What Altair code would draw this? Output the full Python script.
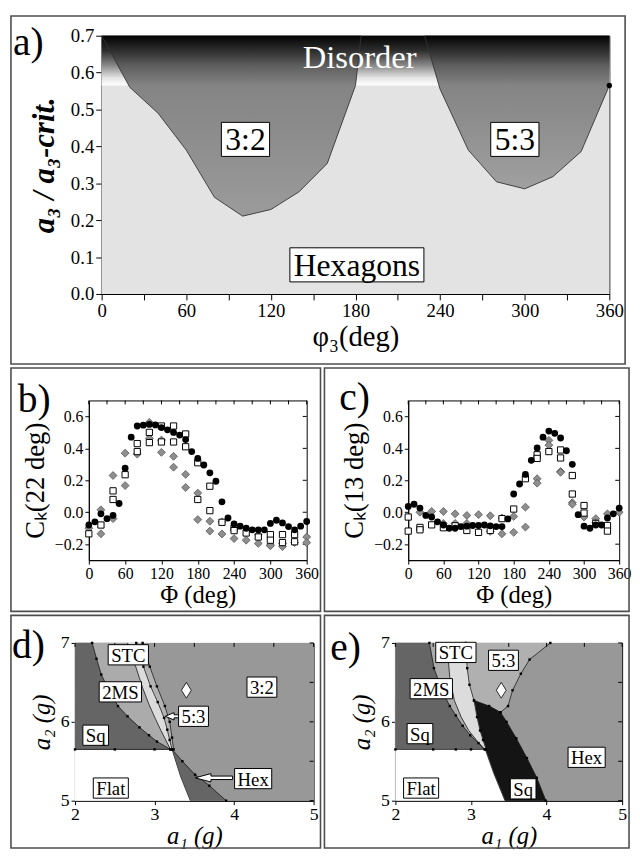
import altair as alt
import pandas as pd

FONT = "Liberation Serif"

# ---------------- panel a : phase diagram a3/a3crit vs phi3 ----------------
a_phi_32 = [0, 20, 40, 60, 80, 100, 120, 140, 160, 180, 184]
a_val_32 = [0.70, 0.56, 0.49, 0.39, 0.262, 0.211, 0.229, 0.277, 0.354, 0.565, 0.70]
a_phi_53 = [229, 240, 260, 280, 300, 320, 340, 360]
a_val_53 = [0.70, 0.555, 0.39, 0.304, 0.285, 0.318, 0.386, 0.565]
a_xdom = [0, 360]
a_ydom = [0.0, 0.7]
a_disorder_floor = 0.565
a_xticks = [0, 30, 60, 90, 120, 150, 180, 210, 240, 270, 300, 330, 360]
a_yticks = [0.0, 0.1, 0.2, 0.3, 0.4, 0.5, 0.6, 0.7]
a_box_text = ["3:2", "5:3", "Hexagons"]
a_box_x = [102, 293, 181]
a_box_y = [0.419, 0.419, 0.079]
a_dis_text = ["Disorder"]
a_dis_x = [183]
a_dis_y = [0.64]
a_dot_x = [360]
a_dot_y = [0.565]

# ---------------- panel b : C_k(22 deg) ----------------
b_circ_phi = [0, 10, 20, 30, 40, 50, 60, 70, 80, 90, 100, 110, 120, 130, 140, 150, 160, 170, 180,
              190, 200, 210, 220, 230, 240, 250, 260, 270, 280, 290, 300, 310, 320, 330, 340, 350, 360]
b_circ_val = [-0.08, -0.06, -0.01, -0.04, -0.02, 0.055, 0.276, 0.47, 0.54, 0.545, 0.55, 0.547, 0.53,
              0.516, 0.50, 0.483, 0.455, 0.38, 0.337, 0.296, 0.247, 0.194, 0.065, -0.036, -0.073,
              -0.087, -0.10, -0.11, -0.11, -0.11, -0.07, -0.05, -0.067, -0.09, -0.11, -0.087, -0.058]
b_sq_phi = [0, 20, 40, 40, 60, 80, 80, 100, 100, 120, 120, 140, 140, 160, 160, 180, 180, 200, 200,
            220, 240, 240, 260, 280, 300, 300, 320, 320, 340, 340]
b_sq_val = [-0.135, -0.08, 0.08, 0.134, 0.235, 0.43, 0.38, 0.50, 0.436, 0.54, 0.44, 0.54, 0.44,
            0.49, 0.41, 0.31, 0.08, 0.163, 0.01, -0.063, -0.10, -0.115, -0.13, -0.155, -0.14,
            -0.175, -0.14, -0.19, -0.14, -0.185]
b_dia_phi = [0, 20, 20, 40, 40, 60, 60, 80, 100, 100, 120, 120, 140, 140, 160, 160, 180, 180, 200,
             200, 220, 220, 240, 260, 280, 280, 300, 300, 320, 320, 340, 360, 360]
b_dia_val = [-0.10, 0.015, -0.135, 0.23, -0.04, 0.37, 0.167, 0.364, 0.563, 0.463, 0.452, 0.375,
             0.35, 0.282, 0.237, 0.155, 0.12, -0.046, -0.056, -0.118, -0.06, -0.136, -0.165,
             -0.175, -0.14, -0.195, -0.205, -0.21, -0.195, -0.215, -0.19, -0.155, -0.19]

# ---------------- panel c : C_k(13 deg) ----------------
c_circ_phi = b_circ_phi
c_circ_val = [0.036, 0.05, 0.026, -0.02, -0.03, -0.06, -0.08, -0.10, -0.10, -0.09, -0.087, -0.083,
              -0.083, -0.08, -0.085, -0.09, -0.09, -0.042, 0.114, 0.177, 0.237, 0.325, 0.403, 0.47,
              0.508, 0.494, 0.465, 0.385, 0.30, -0.015, -0.087, -0.10, -0.08, -0.08, -0.036, -0.01, 0.026]
c_sq_phi = [0, 0, 20, 20, 40, 60, 80, 100, 120, 140, 160, 180, 200, 220, 220, 240, 260, 260, 280,
            280, 300, 300, 320, 340, 340]
c_sq_val = [-0.03, -0.118, -0.095, -0.11, -0.079, -0.097, -0.085, -0.114, -0.126, -0.114, -0.04,
            0.02, 0.21, 0.36, 0.337, 0.38, 0.39, 0.34, 0.23, 0.114, 0.042, -0.005, -0.07, -0.083, -0.118]
c_dia_phi = [20, 40, 60, 60, 80, 80, 100, 100, 120, 140, 140, 160, 160, 180, 180, 200, 200, 220, 220,
             240, 240, 260, 260, 280, 280, 300, 320, 320, 340, 360]
c_dia_val = [0.0, 0.005, 0.005, -0.07, -0.01, -0.07, -0.02, -0.07, -0.015, -0.022, -0.12, -0.036,
             -0.135, -0.026, -0.126, 0.032, -0.093, 0.21, 0.182, 0.45, 0.42, 0.255, 0.25, 0.06, 0.05,
             -0.03, -0.04, -0.067, -0.01, 0.0]
bc_xdom = [0, 360]
bc_ydom = [-0.3, 0.7]
bc_xticks = [0, 60, 120, 180, 240, 300, 360]
bc_xminor = [0, 30, 60, 90, 120, 150, 180, 210, 240, 270, 300, 330, 360]
bc_yticks = [-0.2, 0.0, 0.2, 0.4, 0.6]

# ---------------- panel d : a2 vs a1 phase diagram ----------------
d_sq_a2 = [5.65, 5.75, 5.83, 5.93, 6.07, 6.2, 6.43, 6.6, 6.8, 7.0]
d_sq_a1 = [3.2, 3.03, 2.93, 2.81, 2.66, 2.54, 2.41, 2.33, 2.27, 2.215]
d_2ms_a2 = [5.65, 5.77, 5.89, 6.04, 6.22, 6.43, 6.68, 7.0]
d_2ms_a1 = [3.2, 3.14, 3.08, 3.01, 2.93, 2.85, 2.77, 2.66]
d_stc_a2 = [5.65, 5.77, 5.9, 6.05, 6.25, 6.45, 6.7, 7.0]
d_stc_a1 = [3.22, 3.19, 3.16, 3.12, 3.04, 2.95, 2.86, 2.77]
d_53_a2 = [5.65, 5.8, 6.0, 6.2, 6.45, 6.7, 7.0]
d_53_a1 = [3.24, 3.22, 3.19, 3.13, 3.03, 2.94, 2.85]
d_flat_a2 = [5.0, 5.3, 5.65]
d_flat_a1 = [3.45, 3.33, 3.22]
d_hex_a2 = [5.0, 5.19, 5.33, 5.5, 5.65]
d_hex_a1 = [3.9, 3.69, 3.51, 3.35, 3.22]
d_line_a1 = [2.0, 2.5, 3.0, 3.2]
d_line_a2 = [5.65, 5.65, 5.65, 5.65]
d_text = ["STC", "2MS", "Sq", "Flat", "3:2", "5:3", "Hex"]
d_text_a1 = [2.67, 2.57, 2.26, 2.45, 4.35, 3.49, 4.24]
d_text_a2 = [6.85, 6.38, 5.83, 5.16, 6.44, 6.07, 5.28]
d_arrow_a1 = [3.233, 3.746]
d_arrow_a2 = [6.07, 5.29]

# ---------------- panel e ----------------
e_sq_a2 = [5.65, 5.73, 5.83, 5.95, 6.08, 6.2, 6.35, 6.51, 6.68, 7.0]
e_sq_a1 = [3.18, 3.1, 2.99, 2.89, 2.8, 2.72, 2.64, 2.575, 2.51, 2.45]
e_2ms_a2 = [5.65, 5.77, 5.89, 6.06, 6.27, 6.56, 7.0]
e_2ms_a1 = [3.18, 3.07, 2.97, 2.87, 2.78, 2.72, 2.68]
e_stc_a2 = [5.65, 5.77, 5.89, 6.06, 6.27, 6.47, 6.68, 7.0]
e_stc_a1 = [3.2, 3.16, 3.12, 3.08, 3.04, 2.98, 2.95, 2.93]
e_blk_a2 = [5.0, 5.29, 5.54, 5.79, 6.0, 6.12, 6.2, 6.27]
e_blk_a1 = [3.99, 3.87, 3.74, 3.6, 3.47, 3.39, 3.24, 3.04]
e_53_a2 = [6.12, 6.2, 6.4, 6.61, 6.79, 7.0]
e_53_a1 = [3.39, 3.49, 3.55, 3.66, 3.775, 4.05]
e_flat_a2 = [5.0, 5.35, 5.65]
e_flat_a1 = [3.45, 3.3, 3.19]
e_line_a1 = [2.0, 2.5, 2.8, 3.0, 3.19]
e_line_a2 = [5.65, 5.65, 5.65, 5.65, 5.65]
e_text = ["STC", "5:3", "2MS", "Sq", "Hex", "Sq", "Flat"]
e_text_a1 = [2.80, 3.43, 2.475, 2.325, 4.53, 3.69, 2.34]
e_text_a2 = [6.88, 6.78, 6.42, 5.85, 5.55, 5.15, 5.16]

de_xdom = [2, 5]
de_ydom = [5, 7]
de_xticks = [2, 3, 4, 5]
de_yticks = [5, 6, 7]
de_xminor = [2, 2.5, 3, 3.5, 4, 4.5, 5]
de_yminor = [5, 5.5, 6, 6.5, 7]
diamond_a1 = [3.4]
diamond_a2 = [6.4]

# ====================================================================
CW = {'0': .5, '1': .5, '2': .5, '3': .5, '5': .5, ':': .278, 'S': .556, 'T': .611, 'C': .667,
      'M': .889, 'H': .722, 'F': .556, 'q': .5, 'l': .278, 'a': .444, 't': .278, 'e': .444,
      'x': .5, 'g': .5, 'o': .5, 'n': .5, 's': .389}


def text_w(s, fs):
    return fs * sum(CW.get(ch, 0.5) for ch in s)


one = pd.DataFrame({"k": [0]})


def sc(dom):
    return alt.Scale(domain=dom, nice=False, zero=False)


def encoders(xdom, ydom, xaxis, yaxis):
    def X(f):
        return alt.X(f, type="quantitative", scale=sc(xdom), axis=xaxis)

    def Y(f):
        return alt.Y(f, type="quantitative", scale=sc(ydom), axis=yaxis)
    return X, Y


def border(l, r, t, b):
    return alt.Chart(one).mark_rect(fill="white", fillOpacity=0, stroke="#4d4d4d",
                                    strokeWidth=1.6).encode(
        x=alt.value(l), x2=alt.value(r), y=alt.value(t), y2=alt.value(b))


def plabel(t, px, py):
    return alt.Chart(one).mark_text(font=FONT, fontSize=40, align="left",
                                    baseline="alphabetic", color="black").encode(
        x=alt.value(px), y=alt.value(py), text=alt.value(t))


def spacer():
    # zero-content leading cell so every row starts at the same left edge
    return alt.Chart(one).mark_point(opacity=0, size=0).encode(
        x=alt.value(0), y=alt.value(0)).properties(
        width=1, height=1,
        view=alt.ViewBackground(strokeWidth=0, strokeOpacity=0, fillOpacity=0))


def boxed(texts, xs, ys, fs, X, Y, pad=4):
    layers = []
    for t, x, y in zip(texts, xs, ys):
        df = pd.DataFrame({"x": [x], "y": [y], "t": [t]})
        w = text_w(t, fs) + 2 * pad
        h = fs * 1.08
        r = h / w
        path = f"M-1,{-r:.4f}L1,{-r:.4f}L1,{r:.4f}L-1,{r:.4f}Z"
        base = alt.Chart(df).encode(x=X("x"), y=Y("y"))
        layers.append(base.mark_point(shape=path, size=w * w, filled=True, fill="white",
                                      stroke="black", strokeWidth=1, opacity=1))
        layers.append(base.mark_text(font=FONT, fontSize=fs, color="black", baseline="middle",
                                     dy=1).encode(text="t:N"))
    return layers


def top_ticks(vals, X, ln=4):
    df = pd.DataFrame({"x": vals})
    return alt.Chart(df).mark_rule(color="black", strokeWidth=1).encode(
        x=X("x"), y=alt.value(0), y2=alt.value(ln))


def right_ticks(vals, Y, w, ln=4):
    df = pd.DataFrame({"y": vals})
    return alt.Chart(df).mark_rule(color="black", strokeWidth=1).encode(
        y=Y("y"), x=alt.value(w), x2=alt.value(w - ln))


# ------------------------- panel a -------------------------
WA, HA = 515, 262
ax_a_x = alt.Axis(values=a_xticks, labelExpr="datum.value % 60 == 0 ? datum.label : ''",
                  title="φ₃(deg)", titleFontSize=29, labelFontSize=19, tickSize=6,
                  labelPadding=2, titlePadding=2, labelFlush=False, labelOverlap=False)
ax_a_y = alt.Axis(values=a_yticks, format=".1f", title="a₃ / a₃-crit.", titleFontSize=31,
                  titleFontStyle="italic", titleFontWeight="bold", labelFontSize=19,
                  tickSize=6, labelPadding=2, titlePadding=10, labelFlush=False,
                  labelOverlap=False)
XA, YA = encoders(a_xdom, a_ydom, ax_a_x, ax_a_y)


def grad(stops):
    return alt.LinearGradient(gradient="linear",
                              stops=[alt.GradientStop(color=c, offset=o) for o, c in stops],
                              x1=0, x2=0, y1=0, y2=1)


bg_a = pd.DataFrame({"x": [a_xdom[0]], "x2": [a_xdom[1]], "y": [a_ydom[0]], "y2": [a_ydom[1]]})
band_a = pd.DataFrame({"x": [a_xdom[0]], "x2": [a_xdom[1]], "y": [a_disorder_floor],
                       "y2": [a_ydom[1]]})
df32 = pd.DataFrame({"x": a_phi_32, "y": a_val_32, "top": [a_ydom[1]] * len(a_phi_32)})
df53 = pd.DataFrame({"x": a_phi_53, "y": a_val_53, "top": [a_ydom[1]] * len(a_phi_53)})

layers_a = [
    border(-92, 531, -20, 333),
    alt.Chart(bg_a).mark_rect(fill="#e3e3e3").encode(x=XA("x"), x2="x2", y=YA("y"), y2="y2"),
    alt.Chart(band_a).mark_rect(fill=grad([(0, "#030303"), (0.3, "#2e2e2e"), (0.6, "#8a8a8a"),
                                           (0.85, "#e6e6e6"), (1, "#ffffff")])).encode(
        x=XA("x"), x2="x2", y=YA("y"), y2="y2"),
    alt.Chart(df32).mark_area(fill=grad([(0, "#030303"), (0.083, "#2e2e2e"), (0.165, "#5e5e5e"),
                                         (0.276, "#848484"), (1, "#9b9b9b")])).encode(
        x=XA("x"), y=YA("y"), y2="top"),
    alt.Chart(df53).mark_area(fill=grad([(0, "#030303"), (0.096, "#2e2e2e"), (0.195, "#5e5e5e"),
                                         (0.325, "#848484"), (1, "#a0a0a0")])).encode(
        x=XA("x"), y=YA("y"), y2="top"),
    alt.Chart(df32).mark_line(color="#333333", strokeWidth=0.9).encode(x=XA("x"), y=YA("y")),
    alt.Chart(df53).mark_line(color="#333333", strokeWidth=0.9).encode(x=XA("x"), y=YA("y")),
    alt.Chart(pd.DataFrame({"x": a_dot_x, "y": a_dot_y})).mark_point(
        filled=True, color="black", size=30, opacity=1).encode(x=XA("x"), y=YA("y")),
    alt.Chart(pd.DataFrame({"x": a_dis_x, "y": a_dis_y, "t": a_dis_text})).mark_text(
        font=FONT, fontSize=33, color="white", baseline="middle").encode(
        x=XA("x"), y=YA("y"), text="t:N"),
] + boxed(a_box_text, a_box_x, a_box_y, 32, XA, YA, pad=4) + [plabel("a)", -90, 20)]

panel_a = alt.layer(*layers_a).properties(width=WA, height=HA)


# ------------------------- panels b, c -------------------------
def corr_panel(title, circ, sq, dia, W, H, brd, lab, labpos):
    ax_x = alt.Axis(values=bc_xticks, title="Φ (deg)", titleFontSize=25, labelFontSize=16,
                    tickSize=4, labelPadding=2, titlePadding=1, labelFlush=False,
                    labelOverlap=False)
    ax_y = alt.Axis(values=bc_yticks, format=".1f", title=title, titleFontSize=27,
                    labelFontSize=16, tickSize=4, labelPadding=2, titlePadding=5,
                    labelFlush=False, labelOverlap=False)
    X, Y = encoders(bc_xdom, bc_ydom, ax_x, ax_y)
    dfd = pd.DataFrame({"x": dia[0], "y": dia[1]})
    dfs = pd.DataFrame({"x": sq[0], "y": sq[1]})
    dfc = pd.DataFrame({"x": circ[0], "y": circ[1]})
    layers = [
        border(*brd),
        top_ticks(bc_xminor, X),
        right_ticks(bc_yticks, Y, W),
        alt.Chart(dfd).mark_point(shape="diamond", filled=True, fill="#8e8e8e", stroke="#555555",
                                  strokeWidth=0.8, size=64, opacity=1).encode(x=X("x"), y=Y("y")),
        alt.Chart(dfs).mark_point(shape="square", filled=True, fill="white", stroke="black",
                                  strokeWidth=1, size=40, opacity=1).encode(x=X("x"), y=Y("y")),
        alt.Chart(dfc).mark_point(shape="circle", filled=True, fill="black", stroke="black",
                                  strokeWidth=0, size=48, opacity=1).encode(x=X("x"), y=Y("y")),
        plabel(lab, *labpos),
    ]
    return alt.layer(*layers).properties(width=W, height=H)


panel_b = corr_panel("Cₖ(22 deg)", (b_circ_phi, b_circ_val), (b_sq_phi, b_sq_val),
                     (b_dia_phi, b_dia_val), 221, 162, (-79, 235, -33, 214), "b)", (-72, 12))
panel_c = corr_panel("Cₖ(13 deg)", (c_circ_phi, c_circ_val), (c_sq_phi, c_sq_val),
                     (c_dia_phi, c_dia_val), 214, 162, (-85, 224, -33, 214), "c)", (-70, 10))


# ------------------------- panels d, e -------------------------
def de_axes():
    ax_x = alt.Axis(values=de_xticks, labelExpr="format(datum.value, '.0f')", title="a₁ (g)",
                    titleFontSize=25, titleFontStyle="italic", labelFontSize=18, tickSize=4,
                    labelPadding=1, titlePadding=0, labelFlush=False, labelOverlap=False)
    ax_y = alt.Axis(values=de_yticks, labelExpr="format(datum.value, '.0f')", title="a₂ (g)",
                    titleFontSize=25, titleFontStyle="italic", labelFontSize=18, tickSize=4,
                    labelPadding=2, titlePadding=6, labelFlush=False, labelOverlap=False)
    return encoders(de_xdom, de_ydom, ax_x, ax_y)


def region(a1, a2, color, X, Y):
    df = pd.DataFrame({"x": a1, "y": a2, "x0": [de_xdom[0]] * len(a1)})
    return alt.Chart(df).mark_area(orient="horizontal", fill=color, opacity=1,
                                   stroke=color, strokeWidth=0.3).encode(
        x=X("x"), x2="x0", y=Y("y"))


def bline(a1, a2, X, Y, dots=True):
    df = pd.DataFrame({"x": a1, "y": a2})
    out = [alt.Chart(df).mark_line(color="#1a1a1a", strokeWidth=0.8).encode(
        x=X("x"), y=Y("y"), order=alt.Order("y:Q"))]
    if dots:
        out.append(alt.Chart(df).mark_point(shape="square", filled=True, color="black", size=6,
                                            opacity=1).encode(x=X("x"), y=Y("y")))
    return out


def hline(a1, a2, X, Y):
    df = pd.DataFrame({"x": a1, "y": a2})
    return [alt.Chart(df).mark_line(color="#1a1a1a", strokeWidth=0.8).encode(x=X("x"), y=Y("y")),
            alt.Chart(df).mark_point(shape="square", filled=True, color="black", size=6,
                                     opacity=1).encode(x=X("x"), y=Y("y"))]


def diamond(X, Y):
    df = pd.DataFrame({"x": diamond_a1, "y": diamond_a2})
    return alt.Chart(df).mark_point(shape="M0,-1L0.62,0L0,1L-0.62,0Z", size=256, filled=True,
                                    fill="white", stroke="black", strokeWidth=0.8,
                                    opacity=1).encode(x=X("x"), y=Y("y"))


def arrow(a1, a2, length, head, shaft_h, head_h, X, Y):
    hb = -1 + 2 * head / length
    s = shaft_h / length
    hh = head_h / length
    path = (f"M-1,0L{hb:.3f},{-hh:.3f}L{hb:.3f},{-s:.3f}L1,{-s:.3f}L1,{s:.3f}"
            f"L{hb:.3f},{s:.3f}L{hb:.3f},{hh:.3f}Z")
    df = pd.DataFrame({"x": [a1], "y": [a2]})
    return alt.Chart(df).mark_point(shape=path, size=length * length, filled=True, fill="white",
                                    stroke="black", strokeWidth=1, opacity=1).encode(
        x=X("x"), y=Y("y"))


def full_rect(color, X, Y):
    df = pd.DataFrame({"x": [de_xdom[0]], "x2": [de_xdom[1]], "y": [de_ydom[0]],
                       "y2": [de_ydom[1]]})
    return alt.Chart(df).mark_rect(fill=color).encode(x=X("x"), x2="x2", y=Y("y"), y2="y2")


XD, YD = de_axes()
WD, HD = 242, 160
layers_d = [
    border(-65, 249, -28, 208),
    full_rect("#989898", XD, YD),
    region(d_hex_a1, d_hex_a2, "#656565", XD, YD),
    region(d_flat_a1, d_flat_a2, "#ffffff", XD, YD),
    region(d_53_a1, d_53_a2, "#b3b3b3", XD, YD),
    region(d_stc_a1, d_stc_a2, "#dcdcdc", XD, YD),
    region(d_2ms_a1, d_2ms_a2, "#ababab", XD, YD),
    region(d_sq_a1, d_sq_a2, "#656565", XD, YD),
] + bline(d_sq_a1, d_sq_a2, XD, YD) + bline(d_2ms_a1, d_2ms_a2, XD, YD, dots=False) \
  + bline(d_stc_a1, d_stc_a2, XD, YD) + bline(d_53_a1, d_53_a2, XD, YD) \
  + bline(d_flat_a1, d_flat_a2, XD, YD, dots=False) + bline(d_hex_a1, d_hex_a2, XD, YD) \
  + hline(d_line_a1, d_line_a2, XD, YD) + [
    top_ticks(de_xminor, XD), right_ticks(de_yminor, YD, WD),
    diamond(XD, YD),
    arrow(d_arrow_a1[0], d_arrow_a2[0], 16, 9, 3, 7.5, XD, YD),
    arrow(d_arrow_a1[1], d_arrow_a2[1], 38, 16, 3.5, 8.5, XD, YD),
] + boxed(d_text, d_text_a1, d_text_a2, 19, XD, YD, pad=3) + [plabel("d)", -64, 15)]
panel_d = alt.layer(*layers_d).properties(width=WD, height=HD)

XE, YE = de_axes()
WE, HE = 230, 160
layers_e = [
    border(-72, 237, -28, 208),
    full_rect("#989898", XE, YE),
    region(e_53_a1, e_53_a2, "#b0b0b0", XE, YE),
    region(e_blk_a1, e_blk_a2, "#141414", XE, YE),
    region(e_stc_a1, e_stc_a2, "#dcdcdc", XE, YE),
    region(e_2ms_a1, e_2ms_a2, "#ababab", XE, YE),
    region(e_sq_a1, e_sq_a2, "#656565", XE, YE),
    region(e_flat_a1, e_flat_a2, "#ffffff", XE, YE),
] + bline(e_sq_a1, e_sq_a2, XE, YE) + bline(e_2ms_a1, e_2ms_a2, XE, YE, dots=False) \
  + bline(e_stc_a1, e_stc_a2, XE, YE) + bline(e_blk_a1, e_blk_a2, XE, YE) \
  + bline(e_53_a1, e_53_a2, XE, YE) + bline(e_flat_a1, e_flat_a2, XE, YE, dots=False) \
  + hline(e_line_a1, e_line_a2, XE, YE) + [
    top_ticks(de_xminor, XE), right_ticks(de_yminor, YE, WE),
    diamond(XE, YE),
] + boxed(e_text, e_text_a1, e_text_a2, 19, XE, YE, pad=3) + [plabel("e)", -66, 17)]
panel_e = alt.layer(*layers_e).properties(width=WE, height=HE)

chart = alt.vconcat(
    alt.hconcat(spacer(), panel_a, spacing=0),
    alt.hconcat(spacer(), panel_b, panel_c, spacing=0),
    alt.hconcat(spacer(), panel_d, panel_e, spacing=0),
    spacing=0,
).properties(padding=0, background="white").configure_view(
    stroke="black", strokeWidth=1
).configure_axis(
    labelFont=FONT, titleFont=FONT, labelColor="black", titleColor="black",
    tickColor="black", domainColor="black", grid=False, titleFontWeight="normal"
).configure_text(font=FONT)

chart.save("out.html", embed_options={"renderer": "svg", "actions": False})
